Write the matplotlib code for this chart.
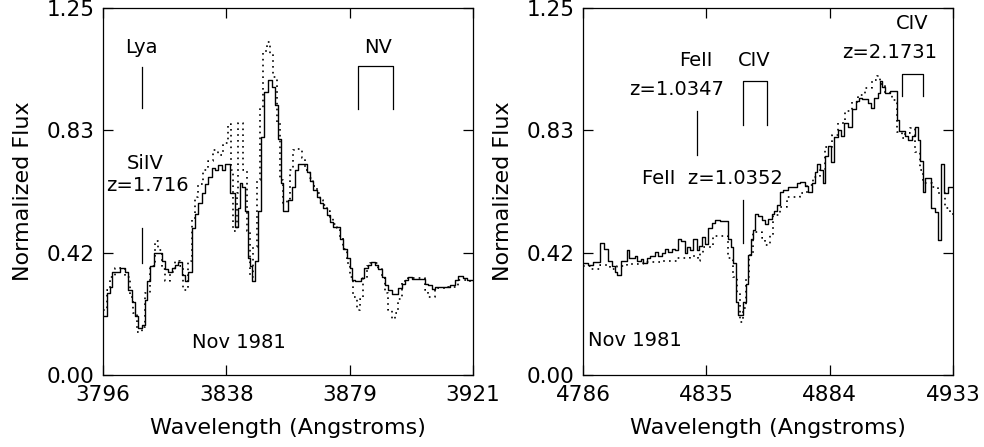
import numpy as np
import matplotlib
matplotlib.use('Agg')
import matplotlib.pyplot as plt

# --- Spettro sinistro (Nov 1981, linea continua = osservato, puntinata = confronto)
LEFT_SOLID_WL = [3796.0, 3797.4, 3798.4, 3799.0, 3801.7, 3803.4, 3804.4, 3805.8, 3806.8, 3807.8,
                 3809.2, 3810.2, 3810.9, 3811.9, 3813.2, 3815.9, 3817.0, 3818.0, 3819.3, 3820.3,
                 3821.3, 3822.7, 3823.7, 3824.7, 3826.1, 3827.1, 3828.1, 3829.4, 3830.5, 3831.5,
                 3832.8, 3833.8, 3834.9, 3836.2, 3837.2, 3838.9, 3840.6, 3841.6, 3842.3, 3843.1,
                 3844.0, 3844.9, 3845.7, 3846.4, 3847.4, 3848.3, 3849.4, 3850.5, 3851.6, 3853.0,
                 3854.1, 3855.0, 3856.1, 3856.9, 3858.6, 3859.8, 3860.9, 3862.0, 3864.8, 3865.9,
                 3867.0, 3868.2, 3869.3, 3870.4, 3871.6, 3872.7, 3873.8, 3876.1, 3877.2, 3878.3,
                 3879.4, 3880.1, 3881.1, 3883.2, 3884.3, 3885.4, 3886.5, 3887.9, 3889.0, 3890.2,
                 3891.3, 3892.4, 3893.5, 3895.8, 3896.9, 3898.0, 3899.1, 3900.3, 3904.8, 3905.9,
                 3907.0, 3908.2, 3913.2, 3914.9, 3916.0, 3917.6, 3918.9]
LEFT_SOLID_FLUX = [0.20, 0.28, 0.30, 0.35, 0.365, 0.35, 0.29, 0.25, 0.20, 0.16,
                   0.17, 0.255, 0.32, 0.37, 0.415, 0.39, 0.36, 0.35, 0.365, 0.375,
                   0.385, 0.34, 0.32, 0.35, 0.50, 0.55, 0.585, 0.62, 0.65, 0.675,
                   0.705, 0.70, 0.715, 0.70, 0.72, 0.62, 0.505, 0.57, 0.655, 0.64,
                   0.56, 0.40, 0.37, 0.32, 0.39, 0.56, 0.81, 0.965, 1.005, 0.98,
                   0.92, 0.805, 0.655, 0.56, 0.595, 0.64, 0.70, 0.72, 0.69, 0.66,
                   0.63, 0.605, 0.585, 0.57, 0.545, 0.52, 0.505, 0.465, 0.43, 0.40,
                   0.365, 0.325, 0.32, 0.33, 0.365, 0.375, 0.385, 0.375, 0.36, 0.335,
                   0.305, 0.29, 0.275, 0.295, 0.31, 0.325, 0.333, 0.327, 0.31, 0.305,
                   0.293, 0.30, 0.306, 0.324, 0.337, 0.33, 0.323]

LEFT_DOT_WL = [3796.0, 3797.2, 3798.4, 3800.1, 3803.4, 3805.1, 3806.2, 3807.4, 3809.1, 3810.2,
               3811.9, 3813.6, 3814.7, 3815.8, 3816.9, 3818.6, 3820.3, 3822.0, 3823.1, 3824.8,
               3826.0, 3827.1, 3828.2, 3829.9, 3831.6, 3833.3, 3835.0, 3836.6, 3838.3, 3839.2,
               3840.0, 3841.2, 3841.7, 3843.4, 3844.5, 3845.7, 3846.8, 3847.9, 3849.0, 3850.2,
               3851.3, 3852.4, 3853.5, 3854.7, 3855.8, 3856.9, 3858.1, 3859.2, 3860.3, 3861.4,
               3863.1, 3864.2, 3865.9, 3867.0, 3868.2, 3869.3, 3870.4, 3871.6, 3872.7, 3873.8,
               3874.9, 3876.1, 3877.2, 3878.3, 3879.4, 3880.6, 3881.7, 3882.8, 3883.9, 3885.1,
               3886.2, 3887.9, 3889.0, 3890.2, 3891.3, 3892.4, 3893.5, 3894.6, 3895.8, 3896.9,
               3899.1, 3904.8, 3905.9, 3908.2, 3912.6, 3916.0, 3918.9]
LEFT_DOT_FLUX = [0.22, 0.29, 0.335, 0.365, 0.335, 0.265, 0.21, 0.145, 0.165, 0.28,
                 0.37, 0.455, 0.425, 0.36, 0.32, 0.35, 0.39, 0.37, 0.29, 0.39,
                 0.53, 0.605, 0.65, 0.70, 0.73, 0.765, 0.75, 0.79, 0.855, 0.70,
                 0.49, 0.62, 0.86, 0.70, 0.49, 0.335, 0.435, 0.665, 0.91, 1.105,
                 1.135, 1.095, 1.015, 0.86, 0.665, 0.585, 0.60, 0.70, 0.765, 0.77,
                 0.74, 0.70, 0.67, 0.645, 0.62, 0.595, 0.58, 0.56, 0.535, 0.515,
                 0.50, 0.47, 0.43, 0.38, 0.335, 0.265, 0.22, 0.26, 0.33, 0.37,
                 0.38, 0.38, 0.36, 0.33, 0.28, 0.22, 0.19, 0.21, 0.26, 0.32,
                 0.33, 0.29, 0.265, 0.295, 0.30, 0.325, 0.32]

# --- Spettro destro
RIGHT_SOLID_WL = [4786.0, 4788.1, 4790.1, 4792.8, 4794.3, 4796.1, 4797.4, 4798.7, 4799.6, 4801.0,
                  4803.4, 4804.4, 4806.7, 4807.6, 4808.9, 4810.0, 4811.3, 4812.6, 4814.6, 4815.9,
                  4817.3, 4818.6, 4819.9, 4821.2, 4822.6, 4823.9, 4824.9, 4826.5, 4827.4, 4828.5,
                  4829.8, 4831.2, 4832.2, 4833.2, 4834.5, 4835.8, 4837.1, 4838.4, 4840.4, 4843.7,
                  4844.7, 4845.7, 4846.8, 4847.7, 4849.7, 4850.8, 4851.7, 4852.6, 4853.7, 4854.3,
                  4855.6, 4857.0, 4858.3, 4859.6, 4861.0, 4861.9, 4863.2, 4864.3, 4865.6, 4867.6,
                  4870.9, 4872.2, 4874.2, 4875.5, 4876.9, 4878.2, 4879.1, 4880.2, 4881.2, 4882.1,
                  4883.2, 4884.5, 4885.8, 4887.2, 4888.5, 4889.8, 4891.2, 4892.8, 4894.5, 4895.7,
                  4897.0, 4899.4, 4900.4, 4901.7, 4903.1, 4904.0, 4904.9, 4906.0, 4908.0, 4910.6,
                  4911.5, 4913.9, 4915.2, 4916.8, 4917.9, 4919.2, 4919.9, 4920.9, 4921.9, 4924.3,
                  4925.8, 4927.2, 4928.2, 4929.6, 4930.9]
RIGHT_SOLID_FLUX = [0.38, 0.375, 0.385, 0.45, 0.43, 0.39, 0.37, 0.35, 0.34, 0.39,
                    0.425, 0.40, 0.405, 0.39, 0.395, 0.38, 0.40, 0.405, 0.42, 0.405,
                    0.415, 0.43, 0.42, 0.43, 0.425, 0.465, 0.455, 0.415, 0.435, 0.425,
                    0.462, 0.425, 0.44, 0.47, 0.445, 0.50, 0.518, 0.528, 0.525, 0.465,
                    0.437, 0.38, 0.25, 0.205, 0.25, 0.31, 0.41, 0.465, 0.495, 0.55,
                    0.54, 0.528, 0.515, 0.53, 0.55, 0.56, 0.58, 0.625, 0.63, 0.64,
                    0.653, 0.657, 0.645, 0.625, 0.655, 0.69, 0.72, 0.70, 0.655, 0.745,
                    0.78, 0.725, 0.81, 0.835, 0.815, 0.86, 0.845, 0.905, 0.935, 0.945,
                    0.94, 0.925, 0.91, 0.945, 0.96, 1.00, 0.98, 0.96, 0.967, 0.87,
                    0.83, 0.815, 0.80, 0.815, 0.845, 0.80, 0.73, 0.625, 0.67, 0.57,
                    0.555, 0.46, 0.72, 0.62, 0.64]

RIGHT_DOT_WL = [4786.0, 4788.8, 4792.8, 4796.7, 4799.4, 4803.4, 4810.0, 4816.6, 4823.2, 4828.5,
                4831.8, 4832.5, 4833.8, 4837.8, 4843.7, 4845.7, 4847.1, 4848.4, 4849.4, 4850.8,
                4852.1, 4853.4, 4857.0, 4858.3, 4860.3, 4861.6, 4864.3, 4866.9, 4872.2, 4874.9,
                4877.5, 4880.2, 4882.1, 4884.8, 4887.4, 4890.1, 4892.8, 4895.4, 4898.0, 4900.7,
                4902.7, 4904.0, 4906.0, 4908.6, 4910.6, 4912.6, 4913.9, 4915.9, 4917.9, 4919.9,
                4921.2, 4924.5, 4927.2, 4929.8, 4931.8]
RIGHT_DOT_FLUX = [0.37, 0.36, 0.375, 0.36, 0.37, 0.378, 0.385, 0.39, 0.40, 0.405,
                  0.39, 0.415, 0.437, 0.472, 0.40, 0.335, 0.28, 0.18, 0.23, 0.335,
                  0.41, 0.487, 0.466, 0.443, 0.477, 0.545, 0.572, 0.607, 0.62, 0.647,
                  0.675, 0.70, 0.777, 0.817, 0.86, 0.90, 0.93, 0.953, 0.977, 1.005,
                  1.02, 0.99, 0.96, 0.937, 0.828, 0.807, 0.825, 0.84, 0.76, 0.70,
                  0.655, 0.64, 0.62, 0.57, 0.55]

LEFT_RANGE = (3796, 3921)
RIGHT_RANGE = (4786, 4933)
Y_MAX = 1.25

plt.rcParams['font.family'] = 'DejaVu Sans'
plt.rcParams['font.size'] = 14


def step_line(ax, wl, flux, xmax, **kw):
    x = list(wl) + [xmax]
    y = list(flux) + [flux[-1]]
    ax.step(x, y, where='post', color='black', **kw)


def format_axes(ax, xr):
    ax.set_xlim(xr)
    ax.set_ylim(0, Y_MAX)
    xt = np.linspace(xr[0], xr[1], 4)
    ax.set_xticks(xt)
    ax.set_xticklabels(['%d' % round(v) for v in xt])
    yt = np.linspace(0, Y_MAX, 4)
    ax.set_yticks(yt)
    ax.set_yticklabels(['%.2f' % v for v in yt])
    ax.tick_params(direction='in', top=True, right=True, length=7, width=0.9,
                   labelsize=15.5)
    ax.tick_params(axis='x', pad=7)
    ax.tick_params(axis='y', pad=6)
    for s in ax.spines.values():
        s.set_linewidth(0.9)
    ax.set_xlabel('Wavelength (Angstroms)', fontsize=16)
    ax.set_ylabel('Normalized Flux', fontsize=16)
    ax.xaxis.set_label_coords(0.5, -0.118)
    ax.yaxis.set_label_coords(-0.19, 0.5)


fig = plt.figure(figsize=(9.84, 4.47), dpi=100)
ax1 = fig.add_axes([0.1047, 0.161, 0.376, 0.821])
ax2 = fig.add_axes([0.5925, 0.161, 0.376, 0.821])

lw_line = 1.0
dot_style = dict(lw=1.2, linestyle=(0, (1, 2.5)))

# ---------------- pannello sinistro ----------------
step_line(ax1, LEFT_SOLID_WL, LEFT_SOLID_FLUX, LEFT_RANGE[1], lw=lw_line)
step_line(ax1, LEFT_DOT_WL, LEFT_DOT_FLUX, LEFT_RANGE[1], **dot_style)
format_axes(ax1, LEFT_RANGE)

ax1.text(3808.8, 1.117, 'Lya', ha='center', va='center')
ax1.plot([3809.1, 3809.1], [0.909, 1.049], color='black', lw=0.9)
ax1.text(3810.2, 0.722, 'SiIV', ha='center', va='center')
ax1.text(3811.0, 0.647, 'z=1.716', ha='center', va='center')
ax1.plot([3809.1, 3809.1], [0.381, 0.501], color='black', lw=0.9)
ax1.text(3888.9, 1.117, 'NV', ha='center', va='center')
ax1.plot([3882.0, 3882.0, 3894.1, 3894.1], [0.905, 1.052, 1.052, 0.905],
         color='black', lw=0.9)
ax1.text(3826.1, 0.112, 'Nov 1981', ha='left', va='center')

# ---------------- pannello destro ----------------
step_line(ax2, RIGHT_SOLID_WL, RIGHT_SOLID_FLUX, RIGHT_RANGE[1], lw=lw_line)
step_line(ax2, RIGHT_DOT_WL, RIGHT_DOT_FLUX, RIGHT_RANGE[1], **dot_style)
format_axes(ax2, RIGHT_RANGE)

ax2.text(4830.9, 1.073, 'FeII', ha='center', va='center')
ax2.text(4823.3, 0.971, 'z=1.0347', ha='center', va='center')
ax2.plot([4831.4, 4831.4], [0.749, 0.900], color='black', lw=0.9)
ax2.text(4853.9, 1.073, 'CIV', ha='center', va='center')
ax2.plot([4849.4, 4849.4, 4859.0, 4859.0], [0.851, 1.001, 1.001, 0.851],
         color='black', lw=0.9)
ax2.text(4837.3, 0.671, 'FeII  z=1.0352', ha='center', va='center')
ax2.plot([4849.4, 4849.4], [0.450, 0.596], color='black', lw=0.9)
ax2.text(4916.7, 1.199, 'CIV', ha='center', va='center')
ax2.text(4908.0, 1.097, 'z=2.1731', ha='center', va='center')
ax2.plot([4912.6, 4912.6, 4921.2, 4921.2], [0.950, 1.025, 1.025, 0.950],
         color='black', lw=0.9)
ax2.text(4788.0, 0.119, 'Nov 1981', ha='left', va='center')

fig.savefig('out.png', dpi=100)
